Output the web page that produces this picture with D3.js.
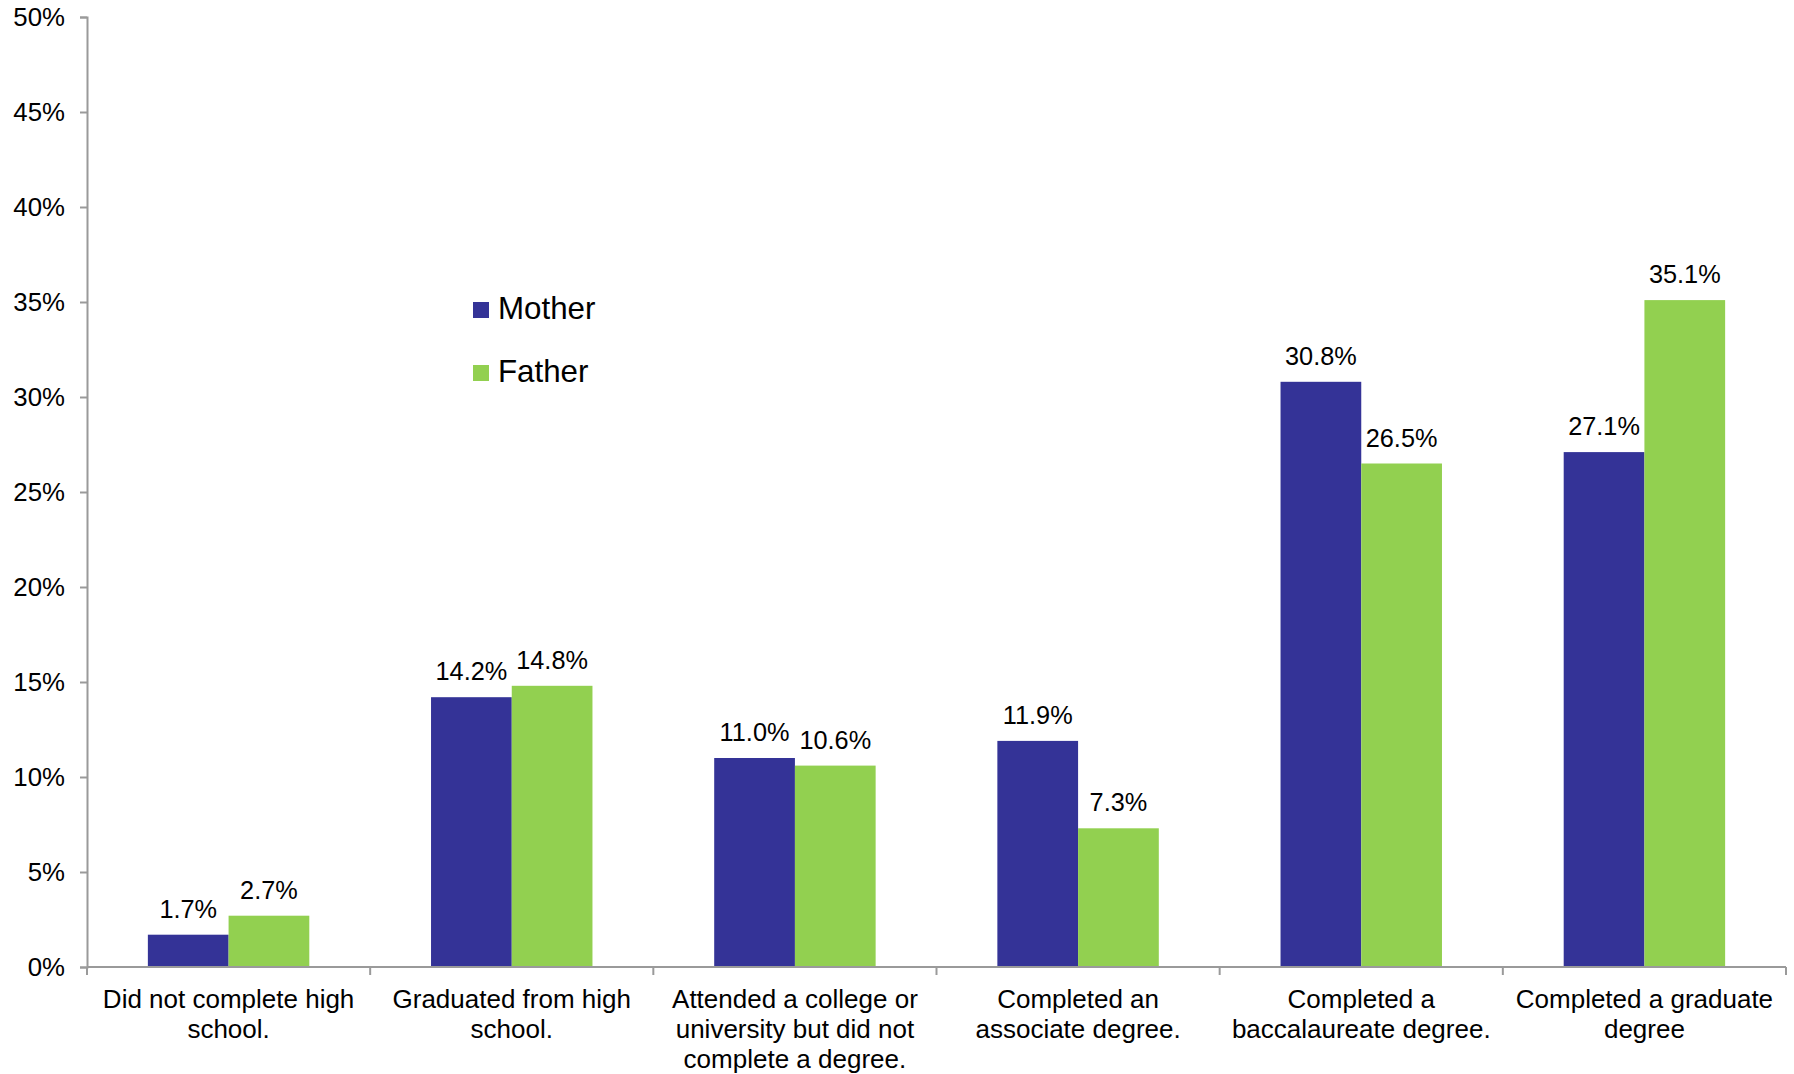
<!DOCTYPE html>
<html>
<head>
<meta charset="utf-8">
<script src="https://cdn.jsdelivr.net/npm/d3@7"></script>
<style>
  html, body { margin: 0; padding: 0; background: #fff; }
  svg { display: block; font-family: "Liberation Sans", Arial, sans-serif; }
</style>
</head>
<body>
<svg id="chart" width="1794" height="1074"></svg>
<script>
// Parents' highest level of education, by parent
const categories = [
  ["Did not complete high", "school."],
  ["Graduated from high", "school."],
  ["Attended a college or", "university but did not", "complete a degree."],
  ["Completed an", "associate degree."],
  ["Completed a", "baccalaureate degree."],
  ["Completed a graduate", "degree"]
];
const motherValues = [1.7, 14.2, 11.0, 11.9, 30.8, 27.1];
const fatherValues = [2.7, 14.8, 10.6, 7.3, 26.5, 35.1];
const seriesNames = ["Mother", "Father"];
const yTicks = [0, 5, 10, 15, 20, 25, 30, 35, 40, 45, 50];

const colors = { Mother: "#343397", Father: "#92D050" };
const axisColor = "#9a9a9a";

const svg = d3.select("#chart");
const plotLeft = 87, plotRight = 1786, plotTop = 17, plotBottom = 967;

const x = d3.scaleBand()
  .domain(d3.range(categories.length))
  .range([plotLeft, plotRight])
  .paddingInner(0)
  .paddingOuter(0);

const inner = d3.scaleBand()
  .domain(seriesNames)
  .range([0, x.bandwidth()])
  .paddingOuter(0.754)
  .paddingInner(0);

const y = d3.scaleLinear().domain([0, 50]).range([plotBottom, plotTop]);

// y axis
const yAxis = svg.append("g")
  .attr("transform", `translate(${plotLeft},0)`)
  .call(d3.axisLeft(y).tickValues(yTicks).tickSize(7).tickPadding(15)
    .tickFormat(d => d + "%"));
yAxis.select(".domain").attr("stroke", axisColor).attr("stroke-width", 2);
yAxis.selectAll(".tick line").attr("stroke", axisColor).attr("stroke-width", 2);
yAxis.selectAll(".tick text")
  .attr("font-size", 25.8).attr("fill", "#000")
  .attr("font-family", "Liberation Sans, Arial, sans-serif");

// bars
const rows = categories.map((c, i) => ({ i, values: [
  { key: "Mother", v: motherValues[i] },
  { key: "Father", v: fatherValues[i] }
]}));

const groups = svg.append("g").selectAll("g")
  .data(rows).join("g")
  .attr("transform", d => `translate(${x(d.i)},0)`);

groups.selectAll("rect")
  .data(d => d.values).join("rect")
  .attr("x", d => inner(d.key))
  .attr("width", inner.bandwidth())
  .attr("y", d => y(d.v))
  .attr("height", d => y(0) - y(d.v))
  .attr("fill", d => colors[d.key]);

groups.selectAll("text.value")
  .data(d => d.values).join("text")
  .attr("class", "value")
  .attr("x", d => inner(d.key) + inner.bandwidth() / 2)
  .attr("y", d => y(d.v) - 17)
  .attr("text-anchor", "middle")
  .attr("font-size", 25.3)
  .attr("fill", "#000")
  .text(d => d.v.toFixed(1) + "%");

// x axis
const xAxis = svg.append("g")
  .attr("transform", `translate(0,${plotBottom})`);
xAxis.append("line")
  .attr("x1", plotLeft).attr("x2", plotRight)
  .attr("stroke", axisColor).attr("stroke-width", 2);
xAxis.selectAll("line.tick")
  .data(d3.range(categories.length + 1)).join("line")
  .attr("class", "tick")
  .attr("x1", d => plotLeft + d * x.step()).attr("x2", d => plotLeft + d * x.step())
  .attr("y1", 0).attr("y2", 8)
  .attr("stroke", axisColor).attr("stroke-width", 2);

const labels = xAxis.selectAll("text.cat")
  .data(categories).join("text")
  .attr("class", "cat")
  .attr("text-anchor", "middle")
  .attr("font-size", 26)
  .attr("fill", "#000")
  .attr("transform", (d, i) => `translate(${x(i) + x.bandwidth() / 2},0)`);
labels.selectAll("tspan")
  .data(d => d).join("tspan")
  .attr("x", 0)
  .attr("y", (d, j) => 40.5 + j * 30.3)
  .text(d => d);

// legend
const legend = svg.append("g").attr("transform", "translate(473,302)");
const items = legend.selectAll("g")
  .data(seriesNames).join("g")
  .attr("transform", (d, i) => `translate(0,${i * 63})`);
items.append("rect")
  .attr("width", 16).attr("height", 16)
  .attr("fill", d => colors[d]);
items.append("text")
  .attr("x", 25).attr("y", 17)
  .attr("font-size", 31.3)
  .attr("fill", "#000")
  .text(d => d);
</script>
</body>
</html>
